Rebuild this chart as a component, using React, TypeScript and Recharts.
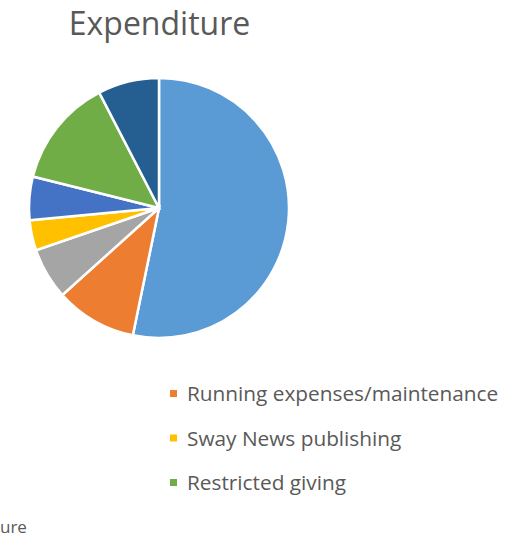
import React from 'react';
import { PieChart, Pie, Cell, Legend } from 'recharts';

const categories = [
  'Staff costs',
  'Running expenses/maintenance',
  'Ministry & outreach',
  'Sway News publishing',
  'Mission giving',
  'Restricted giving',
  'Other',
];
const values = [53.2, 10.1, 6.4, 3.75, 5.4, 13.5, 7.6];
const colors = ['#5B9BD5', '#ED7D31', '#A5A5A5', '#FFC000', '#4472C4', '#70AD47', '#255E91'];
const legendShown = ['Running expenses/maintenance', 'Sway News publishing', 'Restricted giving'];
const title = 'Expenditure';
const footerText = 'ure';

const data = categories.map((name, i) => ({ name, value: values[i] }));
const FONT = '"Open Sans", "Noto Sans", sans-serif';

const LegendContent = (props: any) => {
  const all = props.payload || [];
  const payload = legendShown
    .map((name) => all.find((p: any) => p.value === name))
    .filter(Boolean);
  return (
    <svg width={340} height={140} style={{ overflow: 'visible' }}>
      {payload.map((p: any, i: number) => (
        <g key={p.value} transform={`translate(0, ${i * 44.5})`}>
          <rect x={0} y={10} width={7} height={7} fill={p.color} />
          <text x={17} y={21} fontSize={20.8} fill="#595959" fontFamily={FONT}>
            {p.value}
          </text>
        </g>
      ))}
    </svg>
  );
};

export default function App() {
  return (
    <div style={{ position: 'absolute', left: 0, top: 0, width: 510, height: 540, background: '#fff' }}>
      <PieChart width={510} height={540} margin={{ top: 0, right: 0, bottom: 0, left: 0 }}>
        <Pie
          data={data}
          dataKey="value"
          nameKey="name"
          cx={159}
          cy={208}
          outerRadius={130}
          startAngle={90}
          endAngle={-270}
          stroke="#ffffff"
          strokeWidth={2.5}
          isAnimationActive={false}
        >
          {data.map((d, i) => (
            <Cell key={d.name} fill={colors[i]} />
          ))}
        </Pie>
        <Legend
          content={<LegendContent />}
          wrapperStyle={{ position: 'absolute', left: 170, top: 380, width: 340, height: 140 }}
        />
      </PieChart>
      <svg width={510} height={540} style={{ position: 'absolute', left: 0, top: 0, pointerEvents: 'none' }}>
        <text x={159.5} y={35} textAnchor="middle" fontSize={32} fill="#595959" fontFamily={FONT}>
          {title}
        </text>
        <text x={0} y={533} fontSize={17} fill="#595959" fontFamily={FONT}>
          {footerText}
        </text>
      </svg>
    </div>
  );
}
